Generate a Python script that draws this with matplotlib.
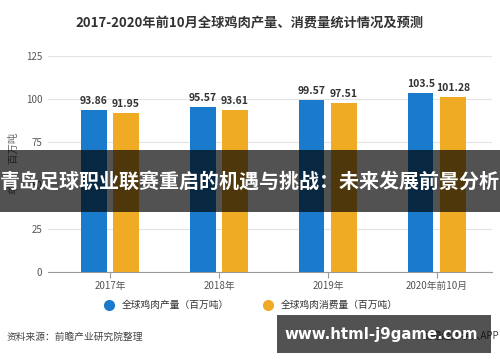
import matplotlib
matplotlib.use("Agg")
import matplotlib.pyplot as plt
import numpy as np
from matplotlib.patches import Rectangle
from matplotlib.lines import Line2D

plt.rcParams['font.family'] = ['Noto Sans CJK SC', 'DejaVu Sans']

categories = ["2017年", "2018年", "2019年", "2020年前10月"]
production = [93.86, 95.57, 99.57, 103.5]
consumption = [91.95, 93.61, 97.51, 101.28]
prod_labels = ["93.86", "95.57", "99.57", "103.5"]
cons_labels = ["91.95", "93.61", "97.51", "101.28"]
yticks = [0, 25, 50, 75, 100, 125]
series_names = ["全球鸡肉产量（百万吨）", "全球鸡肉消费量（百万吨）"]

blue = "#1a7acb"
orange = "#f0ab25"

fig = plt.figure(figsize=(5, 3.62), dpi=100)
ax = fig.add_axes([48/500, 0.2494, 444/500, 0.5967])

x = np.arange(len(categories))
w = 0.23
off = 0.147
ax.bar(x - off, production, w, color=blue, zorder=3)
ax.bar(x + off, consumption, w, color=orange, zorder=3)
for xi, v, l in zip(x, production, prod_labels):
    ax.text(xi - off, v + 2.2, l, ha='center', va='bottom', fontsize=7.5,
            fontweight='bold', color='#333333')
for xi, v, l in zip(x, consumption, cons_labels):
    ax.text(xi + off, v + 2.2, l, ha='center', va='bottom', fontsize=7.5,
            fontweight='bold', color='#333333')

ax.set_xlim(-0.569, 3.505)
ax.set_ylim(0, 125)
ax.set_yticks(yticks)
ax.set_yticklabels([str(t) for t in yticks], fontsize=7, color='#555555')
ax.set_xticks(x)
ax.set_xticklabels(categories, fontsize=7, color='#555555')
ax.tick_params(axis='y', length=0, pad=4)
ax.tick_params(axis='x', length=4, color='#999999', pad=3)
ax.grid(axis='y', color='#e3e3e3', linewidth=0.8, zorder=0)
for s in ['top', 'right', 'left']:
    ax.spines[s].set_visible(False)
ax.spines['bottom'].set_color('#999999')
ax.spines['bottom'].set_linewidth(0.8)
ax.set_axisbelow(True)

fig.text(0.026, 1 - 163/362, "单位：百万吨", rotation=90, ha='center', va='center',
         fontsize=7.5, color='#666666')

fig.text(0.5, 1 - 23/362, "2017-2020年前10月全球鸡肉产量、消费量统计情况及预测",
         ha='center', va='center', fontsize=9.5, fontweight='bold', color='#333333')

# legend
handles = [Line2D([0], [0], marker='o', linestyle='', markersize=7, color=blue),
           Line2D([0], [0], marker='o', linestyle='', markersize=7, color=orange)]
fig.legend(handles, series_names, loc='center', bbox_to_anchor=(0.497, 1 - 305/362),
           ncol=2, frameon=False, fontsize=7, handletextpad=0.3, columnspacing=3.0,
           labelcolor='#333333')

fig.text(7/500, 1 - 337/362, "资料来源：前瞻产业研究院整理", ha='left', va='center',
         fontsize=7, color='#444444')
fig.text(499/500, 1 - 336/362, "前瞻经济学人APP", ha='right', va='center',
         fontsize=7, color='#444444')

# overlay banner
fig.patches.append(Rectangle((0, 1 - 212/362), 1, 62/362, transform=fig.transFigure,
                             facecolor='black', alpha=0.68, zorder=10))
fig.text(0.5, 1 - 181/362, "青岛足球职业联赛重启的机遇与挑战：未来发展前景分析",
         ha='center', va='center', fontsize=14.4, fontweight='bold', color='white',
         zorder=11)

# watermark box
fig.patches.append(Rectangle((277/500, 1 - 353/362), 214/500, 38/362,
                             transform=fig.transFigure, facecolor='black',
                             alpha=0.68, zorder=10))
fig.text(381/500, 1 - 335/362, "www.html-j9game.com", ha='center', va='center',
         fontsize=10.8, fontweight='bold', color='white', zorder=11,
         family=['DejaVu Sans'])

fig.savefig("out.png", dpi=100)
